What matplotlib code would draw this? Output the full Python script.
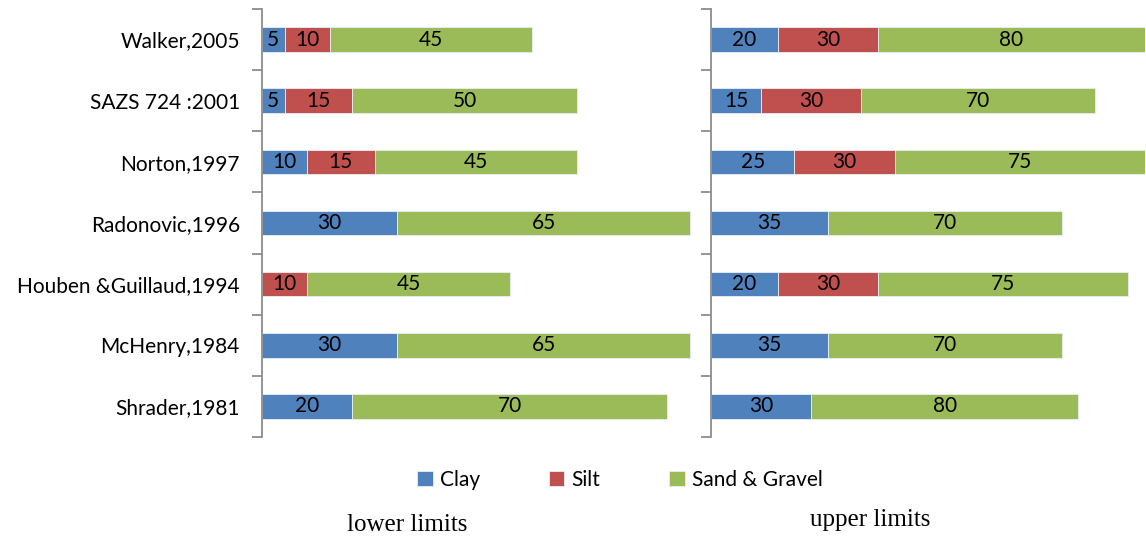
import numpy as np
import matplotlib.pyplot as plt

# --- datos ---
estudios = ['Walker,2005', 'SAZS 724 :2001', 'Norton,1997', 'Radonovic,1996',
            'Houben &Guillaud,1994', 'McHenry,1984', 'Shrader,1981']
series = ['Clay', 'Silt', 'Sand & Gravel']

clay_low = [5, 5, 10, 30, 0, 30, 20]
silt_low = [10, 15, 15, 0, 10, 0, 0]
sand_low = [45, 50, 45, 65, 45, 65, 70]

clay_up = [20, 15, 25, 35, 20, 35, 30]
silt_up = [30, 30, 30, 0, 30, 0, 0]
sand_up = [80, 70, 75, 70, 75, 70, 80]

colores = ['#4F81BD', '#C0504D', '#9BBB59']
fuente = ['Lato', 'DejaVu Sans']

fig = plt.figure(figsize=(11.46, 5.39), dpi=100)
bottom = (539 - 437) / 539
height = (437 - 9) / 539
ax1 = fig.add_axes([262 / 1146, bottom, (699 - 262) / 1146, height])
ax2 = fig.add_axes([711 / 1146, bottom, (1145 - 711) / 1146, height])

y = np.arange(len(estudios))


def dibujar(ax, datos, xmax):
    izq = np.zeros(len(estudios))
    for vals, nombre, c in zip(datos, series, colores):
        vals = np.array(vals, dtype=float)
        barras = ax.barh(y, vals, left=izq, height=0.4, color=c,
                         edgecolor='#E8EEF5', linewidth=0.6, label=nombre)
        etiquetas = [str(int(v)) if v > 0 else '' for v in vals]
        ax.bar_label(barras, labels=etiquetas, label_type='center',
                     fontsize=15, family=fuente, color='black')
        izq += vals
    ax.set_xlim(0, xmax)
    ax.set_ylim(len(estudios) - 0.5, -0.5)
    for s in ['top', 'right', 'bottom']:
        ax.spines[s].set_visible(False)
    ax.spines['left'].set_color('#8C8C8C')
    ax.spines['left'].set_linewidth(1.3)
    ax.set_xticks([])
    ax.set_yticks(y)
    ax.set_yticks(np.arange(-0.5, len(estudios)), minor=True)
    ax.tick_params(axis='y', which='major', length=0, pad=16)
    ax.tick_params(axis='y', which='minor', length=7, width=1.3, color='#8C8C8C')


dibujar(ax1, [clay_low, silt_low, sand_low], 97)
dibujar(ax2, [clay_up, silt_up, sand_up], 130)

ax1.set_yticklabels(estudios, fontsize=15, family=fuente)
ax2.set_yticklabels([])

handles, labels = ax1.get_legend_handles_labels()
fig.legend(handles, labels, loc='center', bbox_to_anchor=(620 / 1146, 1 - 480 / 539),
           ncol=3, frameon=False, handlelength=0.75, handleheight=0.75,
           handletextpad=0.35, columnspacing=3.3, prop={'family': fuente, 'size': 15})

fig.text(407 / 1146, 1 - 525 / 539, 'lower limits', ha='center', va='center',
         fontsize=18, family='Liberation Serif')
fig.text(870 / 1146, 1 - 520 / 539, 'upper limits', ha='center', va='center',
         fontsize=18, family='Liberation Serif')

fig.savefig('out.png', dpi=100)
